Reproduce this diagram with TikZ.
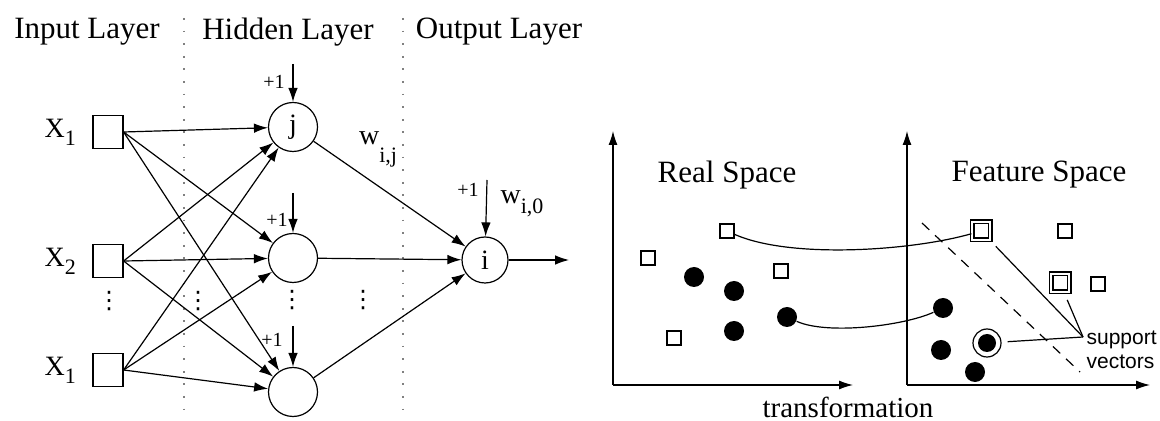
\documentclass[tikz,border=0pt]{standalone}
\usepackage{fontspec}
\setmainfont{Liberation Serif}
\newfontfamily\svfont{Liberation Sans}
\newfontfamily\symfont{DejaVu Sans}
\usetikzlibrary{positioning,arrows.meta}
\newcommand{\lowsub}[3]{#1\raisebox{-#3}{\fontsize{11}{11}\selectfont #2}}

\begin{document}
\begin{tikzpicture}[x=0.5pt,y=-0.5pt, line width=0.6pt,
    font=\fontsize{15.5}{18}\selectfont,
    unit/.style={draw,minimum width=15pt,minimum height=16.5pt,inner sep=0pt},
    neuron/.style={draw,circle,minimum size=24.5pt,inner sep=0pt,font=\fontsize{14}{16}\selectfont},
    arr/.style={-{Latex[length=7pt,width=4.8pt]}},
    sep/.style={gray,line width=1pt,dash pattern=on 0.9pt off 5.4pt},
    small/.style={font=\fontsize{10}{10}\selectfont,inner sep=1pt},
    vdot/.style={font=\symfont\fontsize{12}{12}\selectfont,inner sep=0pt},
    sq/.style={draw,minimum size=7pt,inner sep=0pt},
    dsq/.style={draw,double,double distance=1.3pt,minimum size=9pt,inner sep=0pt},
    dot/.style={circle,fill=black,minimum size=10pt,inner sep=0pt},
    axis/.style={-{Latex[length=7pt,width=4.5pt]}}]
    \useasboundingbox (0,0) rectangle (1160,421);

    % neural network
    \node (tin)  at (87,32)  {Input Layer};
    \node (thid) at (288,32) {Hidden Layer};
    \node (tout) at (499,32) {Output Layer};
    \coordinate (s1a) at (184,18);  \coordinate (s1b) at (184,410);
    \coordinate (s2a) at (403,18);  \coordinate (s2b) at (403,410);
    \draw[sep] (s1a) -- (s1b);
    \draw[sep] (s2a) -- (s2b);

    \node[unit] (in1) at (108,132) {};
    \node[unit] (in2) at (108,261) {};
    \node[unit] (in3) at (108,370) {};
    \node[left=8pt of in1,font=\fontsize{14}{16}\selectfont,inner sep=0pt] (lx1) {\lowsub{X}{1}{4pt}};
    \node[left=8pt of in2,font=\fontsize{14}{16}\selectfont,inner sep=0pt] (lx2) {\lowsub{X}{2}{4pt}};
    \node[left=8pt of in3,font=\fontsize{14}{16}\selectfont,inner sep=0pt] (lx3) {\lowsub{X}{1}{4pt}};

    \node[neuron] (hj) at (293,127) {j};
    \node[neuron] (hm) at (293,258) {};
    \node[neuron] (hb) at (293,392) {};
    \node[neuron,minimum size=23pt] (out) at (485,260) {i};

    \node[vdot] (d1) at (109,301) {⋮};
    \node[vdot] (d2) at (198,301) {⋮};
    \node[vdot] (d3) at (292,300) {⋮};
    \node[vdot] (d4) at (363,300) {⋮};

    \draw[arr] (in1.east) -- (hj);
    \draw[arr] (in1.east) -- (hm);
    \draw[arr] (in1.east) -- (hb);
    \draw[arr] (in2.east) -- (hj);
    \draw[arr] (in2.east) -- (hm);
    \draw[arr] (in2.east) -- (hb);
    \draw[arr] (in3.east) -- (hj);
    \draw[arr] (in3.east) -- (hm);
    \draw[arr] (in3.east) -- (hb);
    \draw[arr] (hj) -- (out);
    \draw[arr] (hm) -- (out);
    \draw[arr] (hb) -- (out);
    \coordinate (yout) at (569,260);
    \draw[arr] (out) -- (yout);

    % bias inputs
    \coordinate (bj) at (293,64);
    \coordinate (bm) at (293,193);
    \coordinate (bb) at (293,326);
    \coordinate (bo) at (487,180);
    \draw[arr] (bj) -- (hj);
    \draw[arr] (bm) -- (hm);
    \draw[arr] (bb) -- (hb);
    \draw[arr] (bo) -- (out);
    \node[small] (pj) at (274,82)  {+1};
    \node[small] (pm) at (277,220) {+1};
    \node[small] (pb) at (272,340) {+1};
    \node[small] (po) at (468,190) {+1};
    \node[font=\fontsize{14}{16}\selectfont,inner sep=0pt] (wij) at (378,149) {\lowsub{w}{i,j}{9pt}};
    \node[font=\fontsize{14}{16}\selectfont,inner sep=0pt] (wio) at (522,204) {\lowsub{w}{i,0}{5pt}};

    % real space / feature space
    \coordinate (o1) at (613,385);
    \coordinate (y1) at (613,131);
    \coordinate (x1) at (853,385);
    \coordinate (o2) at (907,385);
    \coordinate (y2) at (907,131);
    \coordinate (x2) at (1150,385);
    \draw[axis] (o1) -- (y1);
    \draw[axis] (o1) -- (x1);
    \draw[axis] (o2) -- (y2);
    \draw[axis] (o2) -- (x2);
    \node (treal) at (727,175)  {Real Space};
    \node (tfeat) at (1039,175) {Feature Space};
    \node[font=\fontsize{14.5}{17}\selectfont] (ttrans) at (848,407) {transformation};

    \node[sq] (ra) at (727,231) {};
    \node[sq] (rb) at (648,258) {};
    \node[sq] (rc) at (781,271) {};
    \node[sq] (rd) at (674,338) {};
    \node[dot] (ca) at (694,277) {};
    \node[dot] (cb) at (734,291) {};
    \node[dot] (cc) at (734,331) {};
    \node[dot] (cd) at (787,317) {};

    \node[dsq] (fa) at (981,231) {};
    \node[sq]  (fb) at (1065,231) {};
    \node[dsq] (fc) at (1060,283) {};
    \node[sq]  (fd) at (1098,284) {};
    \node[dot] (ga) at (943,308) {};
    \node[dot] (gb) at (941,350) {};
    \node[dot] (gc) at (975,372) {};
    \node[dot,minimum size=9pt] (gd) at (987,343) {};
    \node[draw,circle,minimum size=14pt,inner sep=0pt] (ring) at (gd) {};

    \draw (ra) .. controls +(63,28) and +(-70,20) .. (fa);
    \draw (cd) .. controls +(40,18) and +(-40,18) .. (ga);

    \coordinate (ha) at (922,223);
    \coordinate (hb2) at (1080,372);
    \draw[dash pattern=on 5pt off 4pt] (ha) -- (hb2);
    \coordinate (sv) at (1083,337);
    \draw[shorten <=4pt] (fa) -- (sv);
    \draw[shorten <=4pt] (fc) -- (sv);
    \draw[shorten <=3pt] (ring) -- (sv);
    \node[anchor=west,align=left,inner sep=1pt,font=\svfont\fontsize{10.5}{12}\selectfont] (tsv) at (1084,350) {support\\vectors};
  \end{tikzpicture}
\end{document}
